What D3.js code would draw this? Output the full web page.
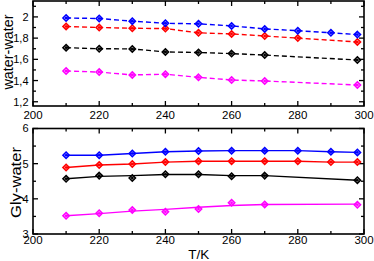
<!DOCTYPE html>
<html><head><meta charset="utf-8">
<script src="https://cdn.jsdelivr.net/npm/d3@7"></script>
<style>body{margin:0;background:#fff}svg{display:block}text{font-family:"Liberation Sans",Arial,sans-serif}</style>
</head><body>
<script>
// ---- data ----
const xTicks = [200, 220, 240, 260, 280, 300];
const topYTicks = [1.2, 1.4, 1.6, 1.8, 2.0];
const botYTicks = [3, 4, 5, 6];

const tAll = [210, 220, 230, 240, 250, 260, 270, 280, 290, 298];
const tRed = [210, 220, 230, 240, 250, 260, 270, 280, 298];
const tShort = [210, 220, 230, 240, 250, 260, 270, 298];

// top panel (water-water)
const blueTop = [1.99, 1.985, 1.96, 1.94, 1.935, 1.915, 1.887, 1.87, 1.85, 1.833];
const redTop = [1.91, 1.90, 1.893, 1.89, 1.85, 1.84, 1.82, 1.80, 1.764];
const blackTop = [1.71, 1.70, 1.698, 1.67, 1.664, 1.654, 1.64, 1.594];
const magentaTop = [1.49, 1.48, 1.453, 1.46, 1.43, 1.405, 1.396, 1.358];

// bottom panel (Gly-water) markers
const blueBot = [5.24, 5.24, 5.29, 5.34, 5.36, 5.37, 5.37, 5.37, 5.34, 5.32];
const redBot = [4.89, 4.96, 4.99, 5.045, 5.07, 5.07, 5.07, 5.07, 5.045, 5.045];
const blackBot = [4.57, 4.66, 4.59, 4.70, 4.70, 4.64, 4.66, 4.53];
const magentaBot = [3.52, 3.59, 3.68, 3.63, 3.71, 3.89, 3.84, 3.83];
// bottom panel smoothed lines
const blackBotLine = [4.57, 4.64, 4.66, 4.69, 4.69, 4.66, 4.66, 4.53];
const magentaBotLine = [3.52, 3.58, 3.65, 3.70, 3.76, 3.81, 3.84, 3.85];

const svg = d3.select("body").append("svg").attr("width", 374).attr("height", 261);

const x = d3.scaleLinear().domain([200, 300]).range([33, 364]);
const yTop = d3.scaleLinear().domain([1.16, 2.15]).range([106, 1]);
const yBot = d3.scaleLinear().domain([3, 6]).range([234, 128.5]);

const fmt = d => String(+d.toFixed(1)).replace(".", ",");

function frame(y, majorY, minorY, labelY, xLabelBase) {
  const g = svg.append("g");
  const [y0, y1] = y.range();
  const x0 = x.range()[0], x1 = x.range()[1];
  // x ticks
  const xMinor = d3.range(210, 300, 20);
  xTicks.forEach(t => {
    g.append("line").attr("x1", x(t)).attr("x2", x(t)).attr("y1", y0).attr("y2", y0 - 5);
    g.append("line").attr("x1", x(t)).attr("x2", x(t)).attr("y1", y1).attr("y2", y1 + 5);
    g.append("text").attr("x", x(t)).attr("y", xLabelBase).attr("text-anchor", "middle")
      .attr("font-size", 11.5).text(t);
  });
  xMinor.forEach(t => {
    g.append("line").attr("x1", x(t)).attr("x2", x(t)).attr("y1", y0).attr("y2", y0 - 3);
    g.append("line").attr("x1", x(t)).attr("x2", x(t)).attr("y1", y1).attr("y2", y1 + 3);
  });
  majorY.forEach(v => {
    g.append("line").attr("x1", x0).attr("x2", x0 + 5).attr("y1", y(v)).attr("y2", y(v));
    g.append("line").attr("x1", x1).attr("x2", x1 - 5).attr("y1", y(v)).attr("y2", y(v));
    g.append("text").attr("x", 28.5).attr("y", y(v)).attr("dy", "0.36em").attr("text-anchor", "end")
      .attr("font-size", 11).text(labelY(v));
  });
  minorY.forEach(v => {
    g.append("line").attr("x1", x0).attr("x2", x0 + 3).attr("y1", y(v)).attr("y2", y(v));
    g.append("line").attr("x1", x1).attr("x2", x1 - 3).attr("y1", y(v)).attr("y2", y(v));
  });
  g.selectAll("line").attr("stroke", "#000").attr("stroke-width", 1.3);
  g.append("rect").attr("x", x0).attr("y", y1).attr("width", x1 - x0).attr("height", y0 - y1)
    .attr("fill", "none").attr("stroke", "#000").attr("stroke-width", 1.6);
}

frame(yTop, topYTicks, [1.3, 1.5, 1.7, 1.9, 2.1], fmt, 119);
frame(yBot, botYTicks, [3.5, 4.5, 5.5], d => String(d), 244);

function series(y, ts, vals, lineVals, color, dashed) {
  const line = d3.line().x((d, i) => x(ts[i])).y(d => y(d));
  svg.append("path").attr("d", line(lineVals)).attr("fill", "none").attr("stroke", color)
    .attr("stroke-width", 1.4).attr("stroke-dasharray", dashed ? "5,3" : null);
  const sym = d3.symbol().type(d3.symbolDiamond2).size(26);
  svg.append("g").selectAll("path").data(vals).join("path")
    .attr("d", sym).attr("transform", (d, i) => `translate(${x(ts[i])},${y(d)})`)
    .attr("fill", color).attr("fill-opacity", 0.35).attr("stroke", color).attr("stroke-width", 1.5);
  svg.append("g").selectAll("circle").data(vals).join("circle")
    .attr("cx", (d, i) => x(ts[i])).attr("cy", d => y(d)).attr("r", 1.3).attr("fill", color);
}

series(yTop, tShort, magentaTop, magentaTop, "#ff00ff", true);
series(yTop, tShort, blackTop, blackTop, "#000000", true);
series(yTop, tRed, redTop, redTop, "#ff0000", true);
series(yTop, tAll, blueTop, blueTop, "#0000ff", true);

series(yBot, tShort, magentaBot, magentaBotLine, "#ff00ff", false);
series(yBot, tShort, blackBot, blackBotLine, "#000000", false);
series(yBot, tAll, redBot, redBot, "#ff0000", false);
series(yBot, tAll, blueBot, blueBot, "#0000ff", false);

svg.append("text").attr("transform", "translate(13,52) rotate(-90)").attr("text-anchor", "middle")
  .attr("font-size", 15).attr("textLength", 75).attr("lengthAdjust", "spacingAndGlyphs").text("water-water");
svg.append("text").attr("transform", "translate(21,182.5) rotate(-90)").attr("text-anchor", "middle")
  .attr("font-size", 15.5).attr("textLength", 71).attr("lengthAdjust", "spacingAndGlyphs").text("Gly-water");
svg.append("text").attr("x", 198.7).attr("y", 259).attr("text-anchor", "middle")
  .attr("font-size", 13.5).text("T/K");
</script>
</body></html>
